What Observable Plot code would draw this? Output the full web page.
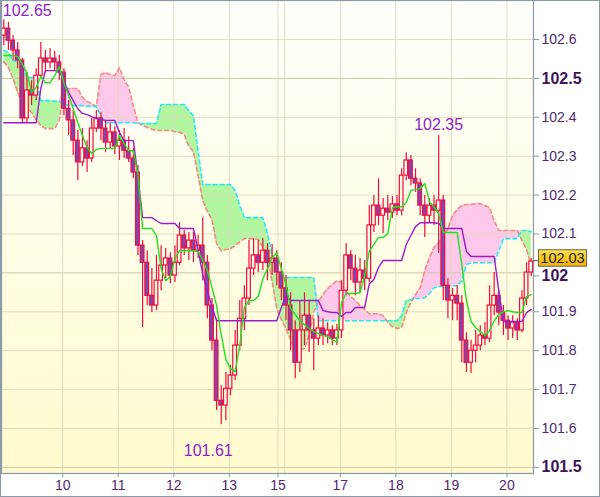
<!DOCTYPE html>
<html><head><meta charset="utf-8">
<script src="https://cdn.jsdelivr.net/npm/d3@7"></script>
<script src="https://cdn.jsdelivr.net/npm/@observablehq/plot@0.6"></script>
<style>
html,body{margin:0;padding:0;background:#fff;}
#chart{position:relative;width:600px;height:497px;}
</style></head><body><div id="chart"></div>
<script>
// 2-hour candles, hours since chart start = 2*i+1
const open = [102.610,102.628,102.597,102.572,102.546,102.397,102.469,102.456,102.507,102.551,
102.541,102.551,102.541,102.515,102.422,102.392,102.340,102.284,102.320,102.294,
102.371,102.397,102.371,102.335,102.361,102.325,102.340,102.314,102.294,102.258,
102.070,102.026,101.941,101.916,101.980,102.019,102.037,101.993,102.026,102.096,
102.063,102.083,102.057,102.070,102.026,101.916,101.826,101.671,101.659,101.702,
101.736,101.813,101.882,101.934,102.011,102.045,102.026,102.057,102.026,102.037,
102.001,101.960,101.916,101.852,101.769,101.852,101.890,101.852,101.831,101.857,
101.839,101.852,101.831,101.852,101.954,102.045,102.011,101.975,102.006,101.985,
102.122,102.173,102.147,102.165,102.155,102.176,102.160,102.250,102.289,102.242,
102.230,102.173,102.147,102.173,102.160,102.186,101.967,101.929,101.941,101.921,
101.826,101.769,101.800,101.813,101.839,101.831,101.916,101.941,101.898,101.877,
101.857,101.872,101.852,101.934,102.001];
const high = [102.651,102.644,102.610,102.592,102.551,102.515,102.494,102.525,102.592,102.572,
102.577,102.569,102.559,102.525,102.443,102.417,102.366,102.371,102.340,102.397,
102.417,102.412,102.392,102.386,102.376,102.366,102.371,102.350,102.320,102.276,
102.083,102.057,102.011,102.045,102.070,102.063,102.052,102.070,102.129,102.109,
102.104,102.104,102.096,102.142,102.045,101.934,101.882,101.710,101.744,101.762,
101.852,101.929,101.967,102.083,102.088,102.083,102.088,102.075,102.073,102.057,
102.026,101.993,101.949,101.877,101.929,101.949,101.929,101.882,101.890,101.882,
101.872,101.864,101.867,101.980,102.075,102.057,102.045,102.037,102.032,102.173,
102.199,102.242,102.191,102.199,102.196,102.199,102.268,102.309,102.302,102.268,
102.242,102.199,102.191,102.199,102.353,102.199,101.985,101.960,101.967,101.941,
101.846,101.826,101.852,101.864,101.872,101.967,102.001,101.954,101.916,101.890,
101.890,101.882,101.954,102.026,102.037];
const low = [102.584,102.572,102.546,102.525,102.384,102.384,102.430,102.443,102.499,102.515,
102.525,102.520,102.494,102.404,102.353,102.302,102.237,102.273,102.258,102.284,
102.361,102.340,102.309,102.320,102.304,102.289,102.294,102.284,102.242,102.045,
101.859,101.916,101.898,101.903,101.954,101.985,101.972,101.975,102.019,102.045,
102.032,102.026,102.037,101.980,101.882,101.800,101.646,101.610,101.620,101.684,
101.723,101.800,101.852,101.916,101.993,102.001,102.006,101.980,101.993,101.967,
101.929,101.877,101.800,101.728,101.744,101.813,101.795,101.749,101.813,101.813,
101.818,101.813,101.813,101.831,101.941,101.980,101.941,101.947,101.954,101.975,
102.104,102.122,102.101,102.134,102.140,102.147,102.147,102.237,102.224,102.207,
102.147,102.091,102.129,102.122,102.050,101.929,101.882,101.877,101.877,101.769,
101.744,101.741,101.769,101.800,101.813,101.821,101.890,101.864,101.839,101.826,
101.831,101.826,101.846,101.916,101.990];
const close = [102.628,102.597,102.572,102.546,102.397,102.469,102.456,102.507,102.551,102.541,
102.551,102.541,102.515,102.422,102.392,102.340,102.284,102.320,102.294,102.371,
102.397,102.371,102.335,102.361,102.325,102.340,102.314,102.294,102.258,102.070,
102.026,101.941,101.916,101.980,102.019,102.037,101.993,102.026,102.096,102.063,
102.083,102.057,102.070,102.026,101.916,101.826,101.671,101.659,101.702,101.736,
101.813,101.882,101.934,102.011,102.045,102.026,102.057,102.026,102.037,102.001,
101.960,101.916,101.852,101.769,101.852,101.890,101.852,101.831,101.857,101.839,
101.852,101.831,101.852,101.954,102.045,102.011,101.975,102.006,101.985,102.122,
102.173,102.147,102.165,102.155,102.176,102.160,102.250,102.289,102.242,102.230,
102.173,102.147,102.173,102.160,102.186,101.967,101.929,101.941,101.921,101.826,
101.769,101.800,101.813,101.839,101.831,101.916,101.941,101.898,101.877,101.857,
101.872,101.852,101.934,102.001,102.029];

// Ichimoku lines sampled at the same candle times
const tenkan = [102.559,102.559,102.559,102.556,102.536,102.515,102.464,102.477,102.505,102.489,
102.489,102.507,102.530,102.489,102.456,102.422,102.386,102.353,102.322,102.307,
102.317,102.320,102.320,102.320,102.320,102.353,102.333,102.314,102.314,102.253,
102.114,102.114,102.114,102.096,102.011,101.980,101.990,102.037,102.057,102.057,
102.057,102.057,102.055,102.032,102.006,101.962,101.916,101.841,101.777,101.754,
101.746,101.813,101.911,101.929,101.929,101.939,101.985,102.011,102.039,102.052,
102.011,101.970,101.908,101.893,101.877,101.867,101.857,101.849,101.844,101.839,
101.836,101.828,101.823,101.924,101.947,101.947,101.947,101.949,101.993,102.055,
102.073,102.091,102.091,102.101,102.168,102.170,102.170,102.181,102.212,102.214,
102.217,102.230,102.183,102.170,102.152,102.104,102.104,102.104,102.104,102.021,
101.929,101.875,101.859,101.849,101.839,101.852,101.877,101.893,101.900,101.903,
101.900,101.898,101.898,101.939,101.944];
const kijun = [102.386,102.386,102.386,102.386,102.386,102.386,102.386,102.386,102.474,102.520,
102.520,102.520,102.518,102.494,102.464,102.443,102.422,102.410,102.407,102.402,
102.397,102.394,102.392,102.392,102.392,102.361,102.340,102.340,102.340,102.248,
102.142,102.142,102.142,102.134,102.127,102.127,102.127,102.127,102.114,102.114,
102.114,102.114,102.060,101.996,101.954,101.913,101.877,101.877,101.877,101.877,
101.877,101.877,101.877,101.877,101.877,101.877,101.877,101.877,101.877,101.877,
101.911,101.941,101.929,101.929,101.929,101.929,101.929,101.929,101.929,101.903,
101.900,101.898,101.898,101.888,101.898,101.898,101.911,101.911,101.911,101.972,
101.983,102.014,102.032,102.032,102.032,102.032,102.032,102.073,102.096,102.119,
102.129,102.129,102.129,102.129,102.127,102.114,102.114,102.114,102.114,102.114,
102.055,102.042,102.042,102.042,102.042,102.042,102.042,101.954,101.875,101.875,
101.875,101.875,101.875,101.898,101.906];
const spanA = [102.572,102.567,102.546,102.543,102.541,102.502,102.502,102.502,102.443,102.443,
102.443,102.441,102.441,102.433,102.430,102.430,102.430,102.430,102.428,102.428,
102.428,102.404,102.386,102.386,102.386,102.386,102.386,102.386,102.386,102.384,
102.384,102.384,102.384,102.384,102.433,102.433,102.433,102.433,102.433,102.433,
102.417,102.404,102.314,102.227,102.227,102.227,102.227,102.227,102.227,102.227,
102.212,102.173,102.142,102.142,102.142,102.142,102.142,102.101,102.047,102.011,
101.988,101.988,101.988,101.988,101.988,101.988,101.988,101.988,101.877,101.877,
101.877,101.877,101.877,101.877,101.877,101.877,101.877,101.877,101.877,101.877,
101.877,101.877,101.877,101.877,101.877,101.877,101.890,101.929,101.931,101.934,
101.934,101.936,101.947,101.962,101.965,101.965,101.965,101.967,101.967,101.980,
102.021,102.026,102.026,102.026,102.026,102.026,102.026,102.057,102.088,102.088,
102.088,102.088,102.109,102.109,102.106];
const spanB = [102.543,102.528,102.499,102.464,102.438,102.425,102.412,102.394,102.379,102.371,
102.371,102.371,102.392,102.474,102.474,102.474,102.474,102.451,102.441,102.435,
102.428,102.510,102.515,102.510,102.507,102.528,102.497,102.477,102.430,102.386,
102.379,102.374,102.369,102.366,102.366,102.366,102.366,102.363,102.361,102.356,
102.325,102.312,102.250,102.186,102.158,102.137,102.075,102.057,102.060,102.062,
102.070,102.080,102.088,102.088,102.088,102.086,102.065,102.039,101.978,101.908,
101.880,101.857,101.828,101.800,101.803,101.805,101.841,101.900,101.926,101.944,
101.960,101.970,101.980,101.975,101.952,101.939,101.929,101.916,101.906,101.895,
101.895,101.895,101.890,101.872,101.862,101.857,101.859,101.898,101.924,101.944,
101.962,102.006,102.039,102.065,102.078,102.093,102.114,102.147,102.163,102.173,
102.176,102.176,102.178,102.178,102.173,102.168,102.134,102.109,102.109,102.109,
102.109,102.109,102.083,102.060,102.019];

// axis ticks
const yTicks = [101.5,101.6,101.7,101.8,101.9,102.0,102.1,102.2,102.3,102.4,102.5,102.6];
const yTickLabels = ["101.5","101.6","101.7","101.8","101.9","102","102.1","102.2","102.3","102.4","102.5","102.6"];
const yMajor = [101.5,102.5];
const yMid = [102.0];
const dayTicks = [26.5,50.5,74.5,98.5,119.5,146.5,170.5,194.5,218.5];
const dayLabels = ["10","11","12","13","15","17","18","19","20"];
const dayGrid = [26.5,50.5,74.5,98.5,119.5,122.5,146.5,170.5,194.5,218.5];
const extremes = [
  {label:"102.65", t:1, price:102.65},
  {label:"102.35", t:189, price:102.35},
  {label:"101.61", t:95, price:101.61}
];
const lastPrice = 102.03;

const t = open.map((_, i) => 2 * i + 1);
const candles = open.map((o, i) => ({t: t[i], open: o, high: high[i], low: low[i], close: close[i]}));
const ichi = tenkan.map((v, i) => ({t: t[i], tenkan: v, kijun: kijun[i], a: spanA[i], b: spanB[i]}));

const purpleTxt = "#4e2a70";
const font = "'Liberation Sans', Arial, sans-serif";
const red = "#f00c3c";
const fmtY = d => yTickLabels[yTicks.indexOf(d)];
const boldLines = yMajor.concat(yMid);

const plot = Plot.plot({
  width: 600, height: 497,
  marginLeft: 1, marginRight: 67, marginTop: 0, marginBottom: 24,
  style: {fontFamily: font, background: "transparent", overflow: "visible"},
  x: {domain: [0, 230], axis: null},
  y: {domain: [101.4842, 102.7003], axis: null},
  marks: [
    Plot.frame({fill: "url(#bgGrad)", stroke: "none"}),
    // cloud
    Plot.areaY(ichi, {x: "t", y1: "b", y2: d => Math.max(d.a, d.b), fill: "#b2f7a0"}),
    Plot.areaY(ichi, {x: "t", y1: "a", y2: d => Math.max(d.a, d.b), fill: "#fec8ea"}),
    // grid
    Plot.ruleY(yTicks.filter(v => !boldLines.includes(v)), {stroke: "#dcdabb", strokeWidth: 1, strokeOpacity: 0.9}),
    Plot.ruleY(boldLines, {stroke: "#c9c7a6", strokeWidth: 1}),
    Plot.ruleX(dayGrid, {stroke: "#dcd9bb", strokeWidth: 1, strokeOpacity: 0.9}),
    Plot.line(ichi, {x: "t", y: "b", stroke: "#f48a86", strokeWidth: 1.6, strokeDasharray: "4,3"}),
    Plot.line(ichi, {x: "t", y: "a", stroke: "#2ae6f6", strokeWidth: 1.6, strokeDasharray: "4,3"}),
    // candles
    Plot.ruleX(candles, {x: "t", y1: "low", y2: "high", stroke: red, strokeWidth: 1.2}),
    Plot.rect(candles, {
      x1: d => d.t - 0.8, x2: d => d.t + 0.8, y1: "open", y2: "close",
      fill: d => d.close < d.open ? "#7e46b6" : "#fffbe4",
      stroke: red, strokeWidth: 1.2
    }),
    // tenkan / kijun
    Plot.line(ichi, {x: "t", y: "kijun", stroke: "#9c1ccc", strokeWidth: 1.4}),
    Plot.line(ichi, {x: "t", y: "tenkan", stroke: "#22e022", strokeWidth: 1.4}),
    // extreme labels
    Plot.text([extremes[0]], {x: "t", y: "price", text: "label", textAnchor: "start", dx: -1, dy: -9, fontSize: 16, fill: "#9022c8"}),
    Plot.text([extremes[1]], {x: "t", y: "price", text: "label", textAnchor: "middle", dy: -12, fontSize: 16, fill: "#9022c8"}),
    Plot.text([extremes[2]], {x: "t", y: "price", text: "label", textAnchor: "middle", dx: -13, dy: 26, fontSize: 16, fill: "#9022c8"}),
    // axes
    Plot.axisY(yTicks.filter(v => !boldLines.includes(v)), {anchor: "right", label: null, tickSize: 5, tickPadding: 3,
      tickFormat: fmtY, fontSize: 14, fill: purpleTxt, stroke: "#8a9aaa"}),
    Plot.axisY(yMajor, {anchor: "right", label: null, tickSize: 5, tickPadding: 3,
      tickFormat: fmtY, fontSize: 16, fontWeight: "bold", fill: "#3e1456", stroke: "#8a9aaa"}),
    Plot.axisY(yMid, {anchor: "right", label: null, tickSize: 5, tickPadding: 3, dy: 3,
      tickFormat: fmtY, fontSize: 16, fontWeight: "bold", fill: "#3e1456", stroke: "#8a9aaa"}),
    Plot.axisX(dayTicks, {anchor: "bottom", label: null, tickSize: 4, tickPadding: 3,
      tickFormat: d => dayLabels[dayTicks.indexOf(d)], fontSize: 14, fill: purpleTxt, stroke: "#8a9aaa"}),
    Plot.frame({stroke: "#8a9aaa", strokeWidth: 1.2})
  ]
});

document.getElementById("chart").appendChild(plot);
const svg = d3.select(plot);
svg.insert("defs", ":first-child").html(
  '<linearGradient id="bgGrad" x1="0" y1="0" x2="0" y2="1">' +
  '<stop offset="0" stop-color="#fffffb"/><stop offset="0.5" stop-color="#fffde6"/><stop offset="1" stop-color="#fffbcd"/></linearGradient>' +
  '<linearGradient id="goldGrad" x1="0" y1="0" x2="0" y2="1">' +
  '<stop offset="0" stop-color="#ffe24a"/><stop offset="1" stop-color="#f2b000"/></linearGradient>'
);
// last price box, positioned through Plot's y scale
const yLast = plot.scale("y").apply(lastPrice);
const g = svg.append("g");
g.append("line").attr("x1", 533).attr("x2", 538).attr("y1", yLast).attr("y2", yLast).attr("stroke", "#555");
g.append("rect").attr("x", 538.5).attr("y", yLast - 11).attr("width", 48).attr("height", 16.5)
  .attr("fill", "url(#goldGrad)").attr("stroke", "#6e6450").attr("stroke-width", 1);
g.append("text").attr("x", 562.5).attr("y", yLast - 2.6).attr("text-anchor", "middle").attr("dominant-baseline", "central")
  .attr("font-family", font).attr("font-size", 14.5).attr("fill", "#1a1a2e").text(lastPrice.toFixed(2));
// outer border
svg.append("rect").attr("x", 0.5).attr("y", 0.5).attr("width", 599).attr("height", 496)
  .attr("fill", "none").attr("stroke", "#8a9aaa");
</script></body></html>
